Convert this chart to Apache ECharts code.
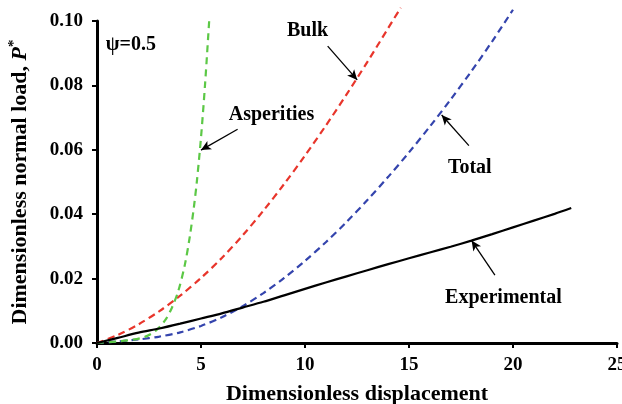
<!DOCTYPE html>
<html><head><meta charset="utf-8">
<script src="https://cdn.jsdelivr.net/npm/echarts@6/dist/echarts.min.js"></script>
<style>html,body{margin:0;padding:0;background:#fff}#c{width:622px;height:404px}</style>
</head><body><div id="c"></div>
<script>
// Data
var bulkX = [0,1,2,3,4,5,6,7,8,9,10,11,12,13,14,14.6];
var bulkY = [0,0.0025,0.0058,0.0099,0.0147,0.0202,0.0264,0.0334,0.0411,0.0494,0.0582,0.0675,0.0772,0.0873,0.0978,0.1041];
var totalX = [0,1,2,3,4,5,6,7,8,9,10,11,12,13,14,15,16,17,18,19,20];
var totalY = [0,0.0005,0.0011,0.0020,0.0033,0.0053,0.0080,0.0114,0.0155,0.0202,0.0255,0.0313,0.0376,0.0444,0.0516,0.0592,0.0672,0.0756,0.0844,0.0937,0.1035];
var asperX = [0,1,1.7,2.3,2.8,3.27,3.59,3.91,4.23,4.47,4.66,4.8,5.0,5.2,5.4];
var asperY = [0,0.0005,0.0010,0.0019,0.0037,0.0070,0.0108,0.0162,0.0245,0.0334,0.0423,0.0501,0.0638,0.0808,0.1008];
var expX = [0,1,2,3,4,5,6,7,8,9,10,11,12,13,14,15,16,17,18,19,20,21,22,22.8];
var expY = [0,0.0016,0.0032,0.0045,0.0060,0.0076,0.0092,0.0110,0.0128,0.0148,0.0168,0.0188,0.0207,0.0226,0.0245,0.0263,0.0281,0.0299,0.0318,0.0338,0.0359,0.0380,0.0401,0.0419];
var xTicks = [0,5,10,15,20,25];
var yTicks = [0,0.02,0.04,0.06,0.08,0.10];
// annotations: [x, y, text]
var labels = [[1.63,0.0926,'ψ=0.5'],[10.12,0.0968,'Bulk'],[8.39,0.0708,'Asperities'],[17.92,0.0544,'Total'],[19.54,0.0140,'Experimental']];
// arrows: [fromX, fromY, toX, toY]
var arrows = [[11.09,0.0922,12.51,0.0817],[6.76,0.0664,5.0,0.0599],[17.88,0.0613,16.57,0.0708],[19.13,0.0211,18.01,0.0318]];

function zip(a,b){return a.map(function(v,i){return [v,b[i]];});}
var FONT = "'Liberation Serif','Times New Roman',serif";
var chart = echarts.init(document.getElementById('c'));
chart.setOption({
  animation:false,
  backgroundColor:'#fff',
  grid:{left:97,right:5,top:21,bottom:61,containLabel:false,outerBoundsMode:'none'},
  xAxis:{type:'value',min:xTicks[0],max:xTicks[xTicks.length-1],interval:5,
    name:'Dimensionless displacement',nameLocation:'middle',nameGap:40,
    nameTextStyle:{fontFamily:FONT,fontWeight:'bold',fontSize:22,color:'#000'},
    axisLine:{lineStyle:{color:'#000',width:3}},
    axisTick:{show:true,length:5,lineStyle:{width:2,color:'#000'}},
    axisLabel:{fontFamily:FONT,fontWeight:'bold',fontSize:19,color:'#000',margin:13},
    splitLine:{show:false}},
  yAxis:{type:'value',min:yTicks[0],max:yTicks[yTicks.length-1],interval:0.02,
    name:'{n|Dimensionless normal load, }{p|P}{s|*}',nameLocation:'middle',nameGap:63,
    nameTextStyle:{fontFamily:FONT,fontWeight:'bold',fontSize:22,color:'#000',
      rich:{n:{fontFamily:FONT,fontWeight:'bold',fontSize:22,color:'#000'},
            p:{fontFamily:FONT,fontWeight:'bold',fontStyle:'italic',fontSize:22,color:'#000'},
            s:{fontFamily:FONT,fontWeight:'bold',fontSize:15,color:'#000',padding:[0,0,12,0]}}},
    axisLine:{show:true,lineStyle:{color:'#000',width:3}},
    axisTick:{show:true,length:5,lineStyle:{width:2,color:'#000'}},
    axisLabel:{fontFamily:FONT,fontWeight:'bold',fontSize:19,color:'#000',margin:14,
      formatter:function(v){return v.toFixed(2);}},
    splitLine:{show:false}},
  series:[
    {type:'line',name:'Bulk',data:zip(bulkX,bulkY),smooth:0.3,showSymbol:false,clip:false,
      lineStyle:{color:'#e8352b',width:2.2,type:[7,4.5]}},
    {type:'line',name:'Total',data:zip(totalX,totalY),smooth:0.3,showSymbol:false,clip:false,
      lineStyle:{color:'#3444ad',width:2.2,type:[7,4.5]}},
    {type:'line',name:'Asperities',data:zip(asperX,asperY),smooth:0.3,showSymbol:false,clip:false,
      lineStyle:{color:'#5cc846',width:2.2,type:[7,5]}},
    {type:'line',name:'Experimental',data:zip(expX,expY),smooth:0.3,showSymbol:false,clip:false,
      lineStyle:{color:'#000',width:2.2},
      markLine:{silent:true,animation:false,symbol:['none','arrow'],symbolSize:[7,10],
        lineStyle:{color:'#000',width:1.3,type:'solid',opacity:1},label:{show:false},
        emphasis:{disabled:true},
        data:arrows.map(function(a){return [{coord:[a[0],a[1]]},{coord:[a[2],a[3]]}];})}},
    {type:'scatter',name:'labels',symbolSize:0,silent:true,clip:false,
      itemStyle:{opacity:1,color:'#000'},emphasis:{disabled:true},
      data:labels.map(function(l){return {value:[l[0],l[1]],name:l[2]};}),
      label:{show:true,position:'inside',formatter:function(p){return p.name;},opacity:1,
        fontFamily:FONT,fontWeight:'bold',fontSize:20,color:'#000'}}
  ]
});
</script></body></html>
